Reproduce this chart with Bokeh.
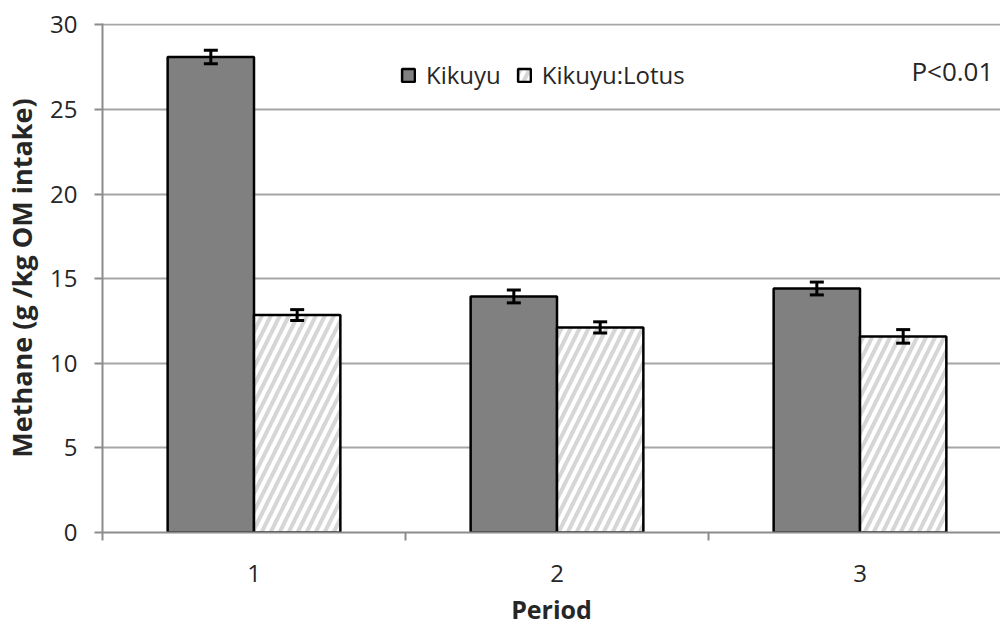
import numpy as np
from bokeh.plotting import figure
from bokeh.models import (ColumnDataSource, FixedTicker, Whisker, TeeHead, Label,
                          Legend, LegendItem, Range1d)
from bokeh.embed import file_html
from bokeh.resources import INLINE

# ---- data ----
periods = [1, 2, 3]
period_labels = ["1", "2", "3"]
kikuyu = [28.1, 13.95, 14.42]
kikuyu_err = [0.4, 0.38, 0.38]
lotus = [12.85, 12.12, 11.59]
lotus_err = [0.32, 0.33, 0.4]
y_ticks = [0, 5, 10, 15, 20, 25, 30]
series_names = ["Kikuyu", "Kikuyu:Lotus"]
x_title = "Period"
y_title = "Methane (g /kg OM intake)"
note = "P<0.01"

BAR_W = 0.285
FONT = "Open Sans"
TXT = "#262626"

px = np.array(periods, dtype=float)
k_src = ColumnDataSource(dict(x=px - BAR_W / 2, top=kikuyu,
                              lo=np.array(kikuyu) - np.array(kikuyu_err),
                              hi=np.array(kikuyu) + np.array(kikuyu_err)))
l_src = ColumnDataSource(dict(x=px + BAR_W / 2, top=lotus,
                              lo=np.array(lotus) - np.array(lotus_err),
                              hi=np.array(lotus) + np.array(lotus_err)))

W, H = 1000, 628
ML = 102
p = figure(width=W, height=H, output_backend="svg", toolbar_location=None,
           x_range=Range1d(0.5, 0.5 + (W - ML) / 303.0), y_range=Range1d(0, 30.08),
           min_border_left=ML, min_border_right=0, min_border_top=23, min_border_bottom=95)
p.outline_line_color = None
p.background_fill_color = "white"
p.border_fill_color = "white"

# grid
p.xgrid.visible = False
p.ygrid.ticker = FixedTicker(ticks=y_ticks)
p.ygrid.grid_line_color = "#a6a6a6"
p.ygrid.grid_line_width = 2

# bars
kr = p.vbar(x="x", top="top", bottom=0, width=BAR_W, source=k_src,
            fill_color="#808080", line_color="black", line_width=2.5)
lr = p.vbar(x="x", top="top", bottom=0, width=BAR_W, source=l_src,
            fill_color="white", line_color="black", line_width=2.5,
            hatch_pattern="/", hatch_color="#d6d6d6", hatch_weight=4, hatch_scale=18)

# error bars (drawn above the bars)
for src in (k_src, l_src):
    w = Whisker(base="x", upper="hi", lower="lo", source=src, level="overlay",
                line_color="black", line_width=3,
                upper_head=TeeHead(size=14, line_width=3, line_color="black"),
                lower_head=TeeHead(size=14, line_width=3, line_color="black"))
    p.add_layout(w)

# x axis
ax = p.xaxis[0]
ax.ticker = FixedTicker(ticks=periods, minor_ticks=[0.5, 1.5, 2.5, 3.5])
ax.major_label_overrides = {k: v for k, v in zip(periods, period_labels)}
ax.major_tick_out = 0
ax.major_tick_in = 0
ax.minor_tick_out = 8
ax.minor_tick_in = 0
ax.minor_tick_line_color = "#8c8c8c"
ax.minor_tick_line_width = 2
ax.axis_line_color = "#8c8c8c"
ax.axis_line_width = 2
ax.major_label_standoff = 24
ax.major_label_text_font = FONT
ax.major_label_text_font_size = "24px"
ax.major_label_text_color = TXT
ax.axis_label = x_title
ax.axis_label_text_font = FONT
ax.axis_label_text_font_size = "25px"
ax.axis_label_text_font_style = "bold"
ax.axis_label_text_color = TXT
ax.axis_label_standoff = 7

# y axis
ay = p.yaxis[0]
ay.ticker = FixedTicker(ticks=y_ticks, minor_ticks=[])
ay.major_tick_out = 8
ay.major_tick_in = 0
ay.major_tick_line_color = "#8c8c8c"
ay.major_tick_line_width = 2
ay.axis_line_color = "#8c8c8c"
ay.axis_line_width = 2
ay.major_label_standoff = 17
ay.major_label_text_font = FONT
ay.major_label_text_font_size = "24px"
ay.major_label_text_color = TXT
ay.axis_label = y_title
ay.axis_label_text_font = FONT
ay.axis_label_text_font_size = "27px"
ay.axis_label_text_font_style = "bold"
ay.axis_label_text_color = TXT
ay.axis_label_standoff = 7

# legend
legend = Legend(items=[LegendItem(label=series_names[0], renderers=[kr]),
                       LegendItem(label=series_names[1], renderers=[lr])],
                orientation="horizontal", location=(298, 441),
                glyph_width=16, glyph_height=16, label_standoff=10, spacing=15,
                label_text_font=FONT, label_text_font_size="24px", label_text_color=TXT,
                background_fill_alpha=0, border_line_color=None, padding=0, margin=0)
p.add_layout(legend)

# significance note
p.add_layout(Label(x=3.44, y=27.26, text=note, text_align="right", text_baseline="middle",
                   text_font=FONT, text_font_size="26px", text_color=TXT))

open("out.html", "w").write(file_html(p, INLINE))
